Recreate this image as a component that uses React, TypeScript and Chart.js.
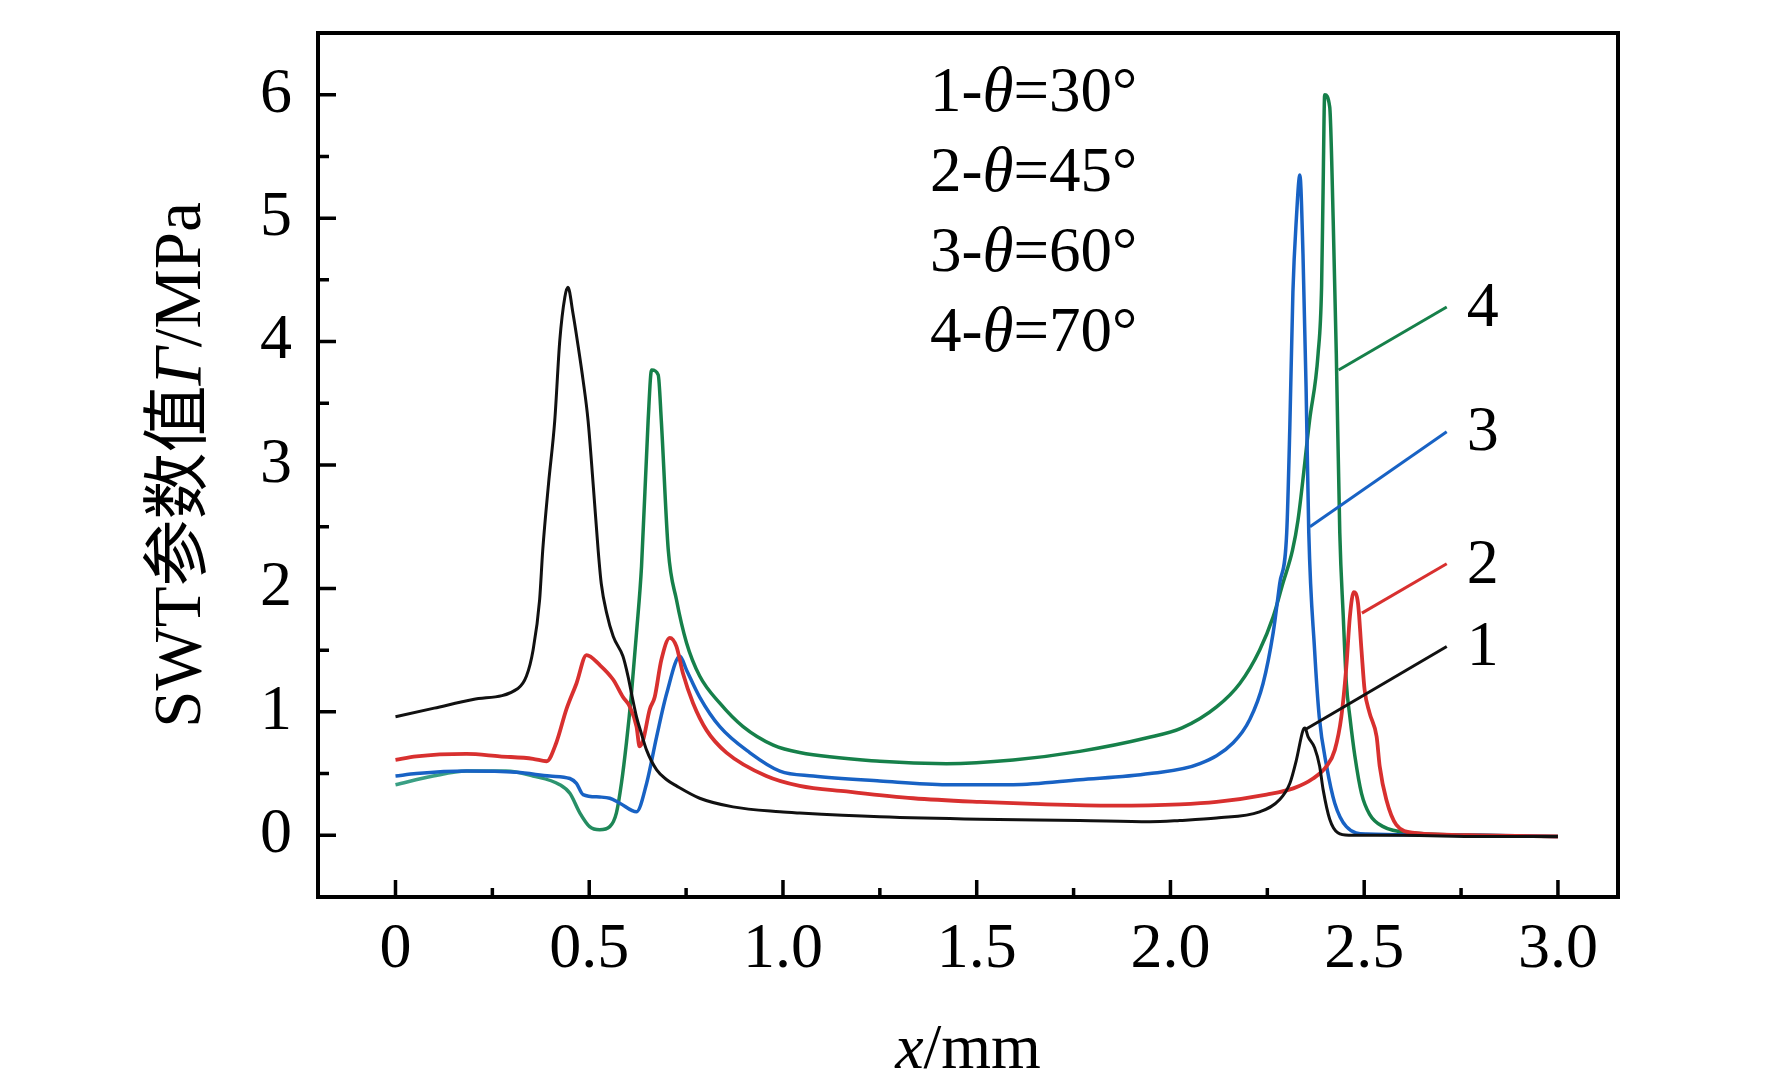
import React, { useEffect, useRef } from "react";
import { Chart, registerables } from "chart.js";

Chart.register(...registerables);

// ---------- data ----------
const series1X = [0, 0.1, 0.2, 0.316, 0.338, 0.355, 0.372, 0.38, 0.395, 0.411, 0.424, 0.437, 0.445, 0.458, 0.472, 0.484, 0.497, 0.51, 0.523, 0.531, 0.545, 0.562, 0.587, 0.6, 0.611, 0.622, 0.635, 0.648, 0.674, 0.7, 0.725, 0.785, 0.871, 0.992, 1.043, 1.25, 1.508, 1.766, 1.947, 2.024, 2.119, 2.23, 2.282, 2.308, 2.325, 2.342, 2.347, 2.355, 2.372, 2.385, 2.394, 2.411, 2.432, 2.46, 2.6, 2.8, 3.0];
const series1Y = [0.96, 1.03, 1.1, 1.19, 1.29, 1.5, 1.91, 2.31, 2.85, 3.36, 4.01, 4.36, 4.44, 4.23, 3.95, 3.69, 3.36, 2.85, 2.31, 2.04, 1.8, 1.61, 1.45, 1.29, 1.12, 0.96, 0.82, 0.69, 0.53, 0.45, 0.4, 0.3, 0.23, 0.19, 0.18, 0.15, 0.13, 0.12, 0.11, 0.12, 0.14, 0.19, 0.29, 0.42, 0.61, 0.85, 0.87, 0.8, 0.71, 0.56, 0.37, 0.13, 0.02, 0.0, 0.0, -0.01, -0.01];

const series2X = [0, 0.054, 0.183, 0.269, 0.355, 0.39, 0.415, 0.441, 0.467, 0.493, 0.527, 0.562, 0.587, 0.605, 0.622, 0.63, 0.639, 0.656, 0.669, 0.686, 0.708, 0.725, 0.742, 0.768, 0.803, 0.854, 0.957, 1.043, 1.164, 1.336, 1.508, 1.68, 1.852, 2.024, 2.119, 2.248, 2.317, 2.368, 2.403, 2.424, 2.441, 2.454, 2.463, 2.473, 2.484, 2.493, 2.501, 2.514, 2.532, 2.54, 2.557, 2.583, 2.63, 2.8, 3.0];
const series2Y = [0.61, 0.64, 0.66, 0.64, 0.62, 0.6, 0.75, 1.02, 1.23, 1.46, 1.38, 1.26, 1.12, 1.04, 0.88, 0.72, 0.77, 1.02, 1.12, 1.42, 1.6, 1.53, 1.31, 1.07, 0.85, 0.67, 0.48, 0.4, 0.355, 0.3, 0.27, 0.25, 0.24, 0.25, 0.27, 0.33, 0.38, 0.46, 0.56, 0.69, 0.96, 1.37, 1.77, 1.97, 1.88, 1.5, 1.18, 0.99, 0.8, 0.56, 0.29, 0.085, 0.02, 0.0, -0.01];

const series3X = [0, 0.054, 0.183, 0.312, 0.398, 0.45, 0.467, 0.484, 0.527, 0.553, 0.579, 0.622, 0.648, 0.674, 0.7, 0.734, 0.751, 0.785, 0.837, 0.914, 0.992, 1.078, 1.25, 1.422, 1.594, 1.766, 1.947, 2.076, 2.162, 2.205, 2.239, 2.265, 2.282, 2.3, 2.308, 2.316, 2.325, 2.334, 2.342, 2.35, 2.357, 2.372, 2.384, 2.403, 2.424, 2.454, 2.506, 2.8, 3.0];
const series3Y = [0.48, 0.5, 0.52, 0.51, 0.48, 0.46, 0.42, 0.33, 0.31, 0.3, 0.26, 0.19, 0.42, 0.8, 1.15, 1.45, 1.34, 1.12, 0.88, 0.67, 0.52, 0.48, 0.44, 0.41, 0.41, 0.45, 0.5, 0.58, 0.75, 0.94, 1.23, 1.64, 2.04, 2.45, 3.3, 4.4, 5.0, 5.35, 4.71, 3.63, 2.45, 1.5, 0.96, 0.56, 0.26, 0.07, 0.01, 0.0, -0.01];

const series4X = [0, 0.097, 0.183, 0.286, 0.355, 0.424, 0.45, 0.476, 0.501, 0.527, 0.553, 0.57, 0.583, 0.596, 0.609, 0.622, 0.635, 0.652, 0.661, 0.678, 0.686, 0.704, 0.725, 0.751, 0.785, 0.837, 0.897, 0.975, 1.043, 1.25, 1.422, 1.594, 1.766, 1.94, 2.03, 2.119, 2.179, 2.23, 2.265, 2.29, 2.315, 2.329, 2.359, 2.381, 2.39, 2.394, 2.398, 2.411, 2.42, 2.428, 2.437, 2.446, 2.454, 2.463, 2.476, 2.493, 2.514, 2.549, 2.62, 2.8, 3.0];
const series4Y = [0.41, 0.48, 0.52, 0.52, 0.48, 0.41, 0.34, 0.18, 0.07, 0.045, 0.07, 0.18, 0.42, 0.75, 1.15, 1.64, 2.18, 3.36, 3.77, 3.73, 3.36, 2.31, 1.91, 1.56, 1.29, 1.07, 0.88, 0.73, 0.67, 0.6, 0.58, 0.61, 0.68, 0.79, 0.87, 1.04, 1.23, 1.5, 1.77, 2.04, 2.31, 2.55, 3.36, 3.9, 4.44, 5.25, 6.0, 5.9, 4.98, 3.9, 2.45, 1.77, 1.23, 0.96, 0.64, 0.34, 0.17, 0.07, 0.02, 0.0, -0.01];

const seriesNames = ["1", "2", "3", "4"];
const legendNumbers = ["1-", "2-", "3-", "4-"];
const legendAngles = ["=30°", "=45°", "=60°", "=70°"];

const xTickValues = [0, 0.5, 1.0, 1.5, 2.0, 2.5, 3.0];
const xMinorValues = [0.25, 0.75, 1.25, 1.75, 2.25, 2.75];
const yTickValues = [0, 1, 2, 3, 4, 5, 6];
const yMinorValues = [0.5, 1.5, 2.5, 3.5, 4.5, 5.5];

// leader lines for the curve numbers (data coordinates)
const leaderStartX = [2.347, 2.494, 2.36, 2.434];
const leaderStartY = [0.855, 1.8, 2.5, 3.77];
const leaderEndX = [2.713, 2.713, 2.713, 2.713];
const leaderEndY = [1.53, 2.2, 3.27, 4.28];

// ---------- styles ----------
const COLORS = ["#111111", "#d8302f", "#1862c4", "#16804a"];
const LINE_WIDTHS = [3, 3.8, 3.5, 3.5];
const SERIF = '"Liberation Serif", "Times New Roman", "Noto Sans CJK SC", serif';
const CJK = '"Liberation Serif", "Noto Sans CJK SC", serif';

type Part = [string, boolean];

function drawParts(ctx: CanvasRenderingContext2D, parts: Part[], x: number, y: number, size: number, align: "left" | "center", family = SERIF) {
  ctx.textBaseline = "alphabetic";
  ctx.textAlign = "left";
  const widths = parts.map(([t, it]) => {
    ctx.font = `${it ? "italic " : ""}${size}px ${family}`;
    return ctx.measureText(t).width;
  });
  const total = widths.reduce((a, b) => a + b, 0);
  let cx = align === "center" ? x - total / 2 : x;
  parts.forEach(([t, it], i) => {
    ctx.font = `${it ? "italic " : ""}${size}px ${family}`;
    ctx.fillText(t, cx, y);
    cx += widths[i];
  });
}

const decorPlugin = {
  id: "decor",
  afterDatasetsDraw(chart: any) {
    const { ctx, chartArea: ca, scales } = chart;
    const xs = scales.x;
    const ys = scales.y;
    ctx.save();

    // leader lines
    ctx.lineWidth = 3;
    ctx.lineCap = "butt";
    for (let i = 0; i < 4; i++) {
      ctx.strokeStyle = COLORS[i];
      ctx.beginPath();
      ctx.moveTo(xs.getPixelForValue(leaderStartX[i]), ys.getPixelForValue(leaderStartY[i]));
      ctx.lineTo(xs.getPixelForValue(leaderEndX[i]), ys.getPixelForValue(leaderEndY[i]));
      ctx.stroke();
    }
    // curve numbers
    ctx.fillStyle = "#000";
    ctx.font = `64px ${SERIF}`;
    ctx.textAlign = "left";
    ctx.textBaseline = "middle";
    for (let i = 0; i < 4; i++) {
      ctx.fillText(seriesNames[i], xs.getPixelForValue(leaderEndX[i]) + 20, ys.getPixelForValue(leaderEndY[i]) + 2);
    }

    // frame
    ctx.strokeStyle = "#000";
    ctx.lineWidth = 4;
    ctx.strokeRect(ca.left, ca.top, ca.right - ca.left, ca.bottom - ca.top);

    // ticks (inward)
    ctx.lineWidth = 3.5;
    ctx.beginPath();
    xTickValues.forEach((v) => {
      const px = xs.getPixelForValue(v);
      ctx.moveTo(px, ca.bottom);
      ctx.lineTo(px, ca.bottom - 17);
    });
    xMinorValues.forEach((v) => {
      const px = xs.getPixelForValue(v);
      ctx.moveTo(px, ca.bottom);
      ctx.lineTo(px, ca.bottom - 9);
    });
    yTickValues.forEach((v) => {
      const py = ys.getPixelForValue(v);
      ctx.moveTo(ca.left, py);
      ctx.lineTo(ca.left + 18, py);
    });
    yMinorValues.forEach((v) => {
      const py = ys.getPixelForValue(v);
      ctx.moveTo(ca.left, py);
      ctx.lineTo(ca.left + 11, py);
    });
    ctx.stroke();

    // legend text
    ctx.fillStyle = "#000";
    for (let i = 0; i < 4; i++) {
      drawParts(ctx, [[legendNumbers[i], false], ["θ", true], [legendAngles[i], false]], ca.left + 612, ca.top + 78 + i * 80, 63, "left");
    }

    // x title
    drawParts(ctx, [["x", true], ["/mm", false]], (ca.left + ca.right) / 2, 1068, 64, "center");

    // y title
    ctx.save();
    ctx.translate(200, (ca.top + ca.bottom) / 2);
    ctx.rotate(-Math.PI / 2);
    drawParts(ctx, [["SWT参数值", false], ["Γ", true], ["/MPa", false]], 0, 0, 67, "center", CJK);
    ctx.restore();

    ctx.restore();
  },
};

function makeData(xs: number[], ys: number[]) {
  return xs.map((x, i) => ({ x, y: ys[i] }));
}

export default function App() {
  const ref = useRef<HTMLCanvasElement | null>(null);

  useEffect(() => {
    document.body.style.margin = "0";
    const canvas = ref.current;
    if (!canvas) return;
    const allX = [series1X, series2X, series3X, series4X];
    const allY = [series1Y, series2Y, series3Y, series4Y];

    const chart = new Chart(canvas, {
      type: "line",
      data: {
        datasets: allX.map((xs, i) => ({
          label: seriesNames[i],
          data: makeData(xs, allY[i]),
          borderColor:
            i === 3
              ? (c: any) => {
                  const { chart: ch } = c;
                  const area = ch.chartArea;
                  if (!area) return COLORS[3];
                  const sx = ch.scales.x;
                  const g = ch.ctx.createLinearGradient(sx.getPixelForValue(0.3), 0, sx.getPixelForValue(0.62), 0);
                  g.addColorStop(0, "#3a9f84");
                  g.addColorStop(1, COLORS[3]);
                  return g;
                }
              : COLORS[i],
          borderWidth: LINE_WIDTHS[i],
          pointRadius: 0,
          fill: false,
          cubicInterpolationMode: "monotone",
        })),
      },
      options: {
        responsive: false,
        animation: false,
        devicePixelRatio: 1,
        layout: { padding: { top: 33, right: 154, left: 0, bottom: 0 } },
        plugins: {
          legend: { display: false },
          tooltip: { enabled: false },
        },
        scales: {
          x: {
            type: "linear",
            min: -0.2,
            max: 3.155,
            grid: { display: false, drawTicks: false },
            border: { display: false },
            afterBuildTicks: (s: any) => {
              s.ticks = xTickValues.map((v) => ({ value: v }));
            },
            afterFit: (s: any) => {
              s.height = 192;
              s.paddingLeft = 0;
              s.paddingRight = 0;
            },
            ticks: {
              padding: 15,
              color: "#000",
              font: { family: SERIF, size: 64 },
              maxRotation: 0,
              callback: (v: any) => (Number(v) === 0 ? "0" : Number(v).toFixed(1)),
            },
          },
          y: {
            type: "linear",
            min: -0.5,
            max: 6.5,
            grid: { display: false, drawTicks: false },
            border: { display: false },
            afterBuildTicks: (s: any) => {
              s.ticks = yTickValues.map((v) => ({ value: v }));
            },
            afterFit: (s: any) => {
              s.width = 318;
              s.paddingTop = 0;
              s.paddingBottom = 0;
            },
            ticks: {
              padding: 26,
              color: "#000",
              font: { family: SERIF, size: 64 },
              callback: (v: any) => String(Number(v)),
            },
          },
        },
      },
      plugins: [decorPlugin],
    } as any);

    return () => chart.destroy();
  }, []);

  return (
    <div style={{ position: "absolute", left: 0, top: 0, width: 1772, height: 1089, background: "#fff" }}>
      <canvas ref={ref} width={1772} height={1089} style={{ width: 1772, height: 1089, display: "block" }} />
    </div>
  );
}
